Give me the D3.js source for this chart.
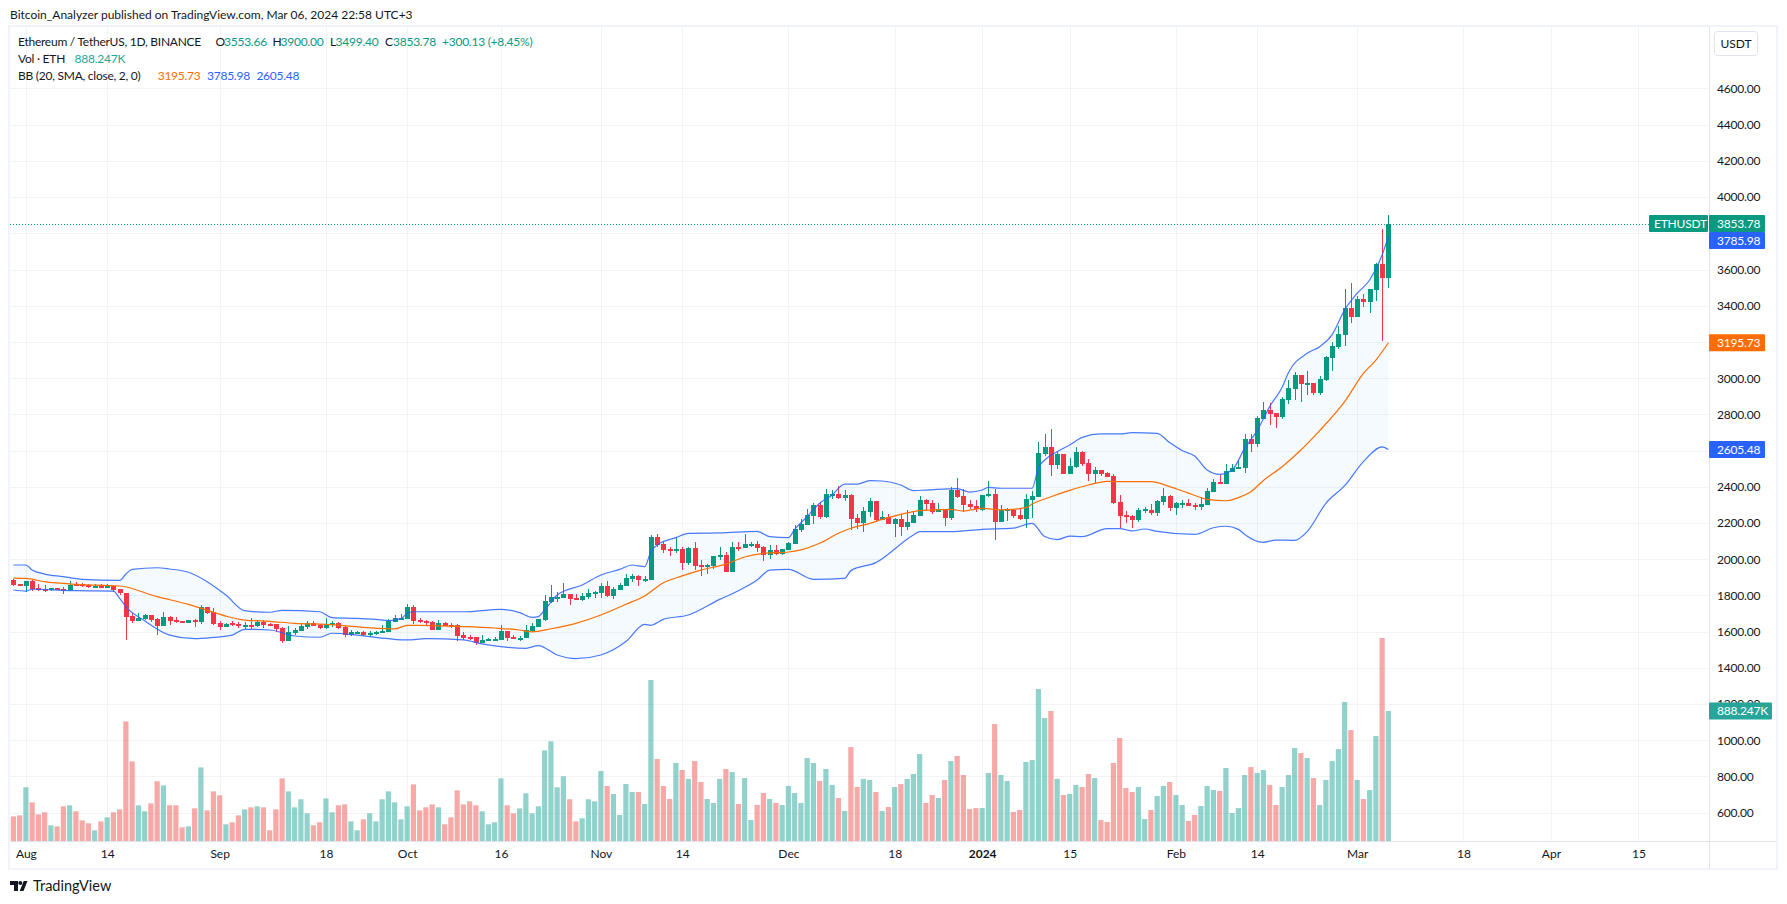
<!DOCTYPE html>
<html>
<head>
<meta charset="utf-8">
<script src="https://cdn.jsdelivr.net/npm/d3@7"></script>
<style>
  body { margin: 0; background: #fff; }
  text { font-family: Lato, "Noto Sans", sans-serif; fill: #131722; }
</style>
</head>
<body>
<div id="chart"></div>
<script>
// daily candles, first bar is two days before Aug 1 (day 0)
let firstDay = -2

let open = [
  1885,1863,1852,1880,1839,1837,1828,1841,1834,1830,
  1863,1861,1856,1848,1856,1848,1852,1835,1813,1686,
  1659,1668,1692,1670,1631,1683,1662,1659,1650,1664,
  1653,1734,1710,1648,1627,1646,1642,1633,1637,1631,
  1653,1642,1640,1620,1548,1591,1605,1626,1648,1637,
  1620,1635,1650,1626,1580,1594,1598,1580,1587,1598,
  1598,1655,1670,1670,1736,1666,1659,1655,1609,1648,
  1638,1637,1580,1570,1570,1537,1554,1554,1554,1603,
  1572,1563,1565,1602,1627,1664,1764,1788,1786,1806,
  1786,1775,1791,1810,1813,1852,1797,1830,1852,1891,
  1907,1887,1885,2123,2084,2056,2045,2056,1979,2062,
  1968,1964,1963,2012,2023,1929,2069,2062,2079,2084,
  2067,2023,2051,2029,2051,2084,2161,2189,2239,2299,
  2233,2355,2360,2338,2355,2228,2200,2261,2321,2217,
  2233,2194,2222,2178,2200,2239,2327,2310,2261,2277,
  2228,2382,2349,2305,2294,2272,2355,2360,2206,2272,
  2272,2244,2222,2327,2344,2581,2620,2520,2581,2471,
  2509,2592,2531,2471,2493,2476,2460,2316,2244,2239,
  2217,2272,2272,2255,2316,2349,2283,2305,2311,2300,
  2288,2300,2371,2427,2415,2482,2498,2504,2664,2636,
  2774,2824,2808,2785,2879,2940,3017,2968,2973,2918,
  2990,3111,3172,3238,3387,3338,3437,3421,3487,3630,
  3553.66
]
let high = [
  1891,1865,1880,1885,1863,1858,1843,1843,1848,1880,
  1872,1870,1865,1863,1863,1863,1852,1835,1813,1701,
  1701,1697,1692,1673,1708,1686,1679,1661,1666,1668,
  1747,1738,1729,1661,1650,1657,1651,1653,1675,1664,
  1664,1646,1640,1624,1633,1618,1648,1659,1657,1642,
  1673,1661,1653,1629,1607,1605,1603,1603,1605,1635,
  1668,1692,1697,1753,1747,1675,1664,1659,1664,1653,
  1650,1640,1598,1581,1570,1580,1567,1569,1638,1603,
  1583,1578,1635,1646,1668,1802,1858,1819,1869,1806,
  1806,1812,1834,1826,1867,1880,1845,1870,1918,1918,
  1911,1907,2134,2139,2095,2067,2123,2067,2067,2095,
  1996,1974,2018,2067,2040,2095,2095,2139,2095,2101,
  2075,2079,2079,2056,2095,2189,2222,2277,2310,2316,
  2388,2382,2404,2382,2360,2250,2288,2338,2321,2266,
  2250,2228,2250,2272,2266,2349,2333,2327,2310,2277,
  2397,2449,2388,2327,2327,2355,2432,2388,2299,2283,
  2277,2277,2360,2377,2647,2692,2719,2592,2583,2559,
  2620,2598,2554,2509,2493,2482,2471,2355,2266,2244,
  2283,2288,2305,2327,2393,2355,2316,2327,2333,2311,
  2344,2393,2443,2465,2526,2526,2542,2692,2692,2791,
  2868,2863,2808,2896,2990,3034,3017,3040,2973,3012,
  3122,3200,3288,3492,3526,3454,3465,3492,3636,3824,
  3900
]
let low = [
  1852,1852,1821,1826,1826,1819,1826,1828,1808,1826,
  1850,1847,1841,1847,1841,1841,1821,1802,1554,1648,
  1659,1666,1651,1583,1631,1638,1646,1649,1649,1626,
  1642,1697,1637,1611,1626,1631,1620,1613,1613,1626,
  1620,1633,1600,1539,1548,1581,1605,1616,1631,1616,
  1616,1627,1613,1572,1576,1592,1574,1569,1581,1591,
  1598,1653,1670,1670,1642,1650,1633,1609,1609,1631,
  1620,1550,1554,1552,1528,1537,1548,1552,1554,1548,
  1557,1548,1565,1602,1627,1659,1760,1764,1786,1749,
  1775,1771,1782,1788,1786,1791,1780,1830,1852,1874,
  1852,1874,1885,2068,2034,2018,2034,1940,1968,1940,
  1907,1918,1946,1996,1929,1929,2045,2062,2067,2040,
  1990,2001,2023,2023,2051,2084,2152,2189,2195,2222,
  2228,2333,2333,2321,2161,2167,2150,2233,2206,2217,
  2194,2123,2128,2161,2200,2239,2266,2250,2261,2183,
  2217,2338,2261,2277,2261,2266,2344,2106,2206,2211,
  2228,2217,2172,2228,2344,2570,2460,2498,2470,2471,
  2504,2515,2432,2421,2460,2454,2305,2172,2200,2172,
  2206,2255,2244,2239,2300,2266,2244,2283,2294,2272,
  2272,2300,2371,2417,2415,2482,2498,2476,2594,2620,
  2774,2741,2725,2774,2857,2879,2868,2907,2907,2907,
  2984,3040,3161,3178,3305,3338,3393,3360,3426,3205,
  3499.4
]
let close = [
  1858,1852,1880,1834,1832,1826,1841,1830,1830,1858,
  1854,1854,1852,1854,1843,1852,1830,1812,1683,1659,
  1675,1692,1662,1631,1681,1659,1653,1650,1664,1661,
  1736,1705,1642,1626,1642,1640,1637,1637,1631,1653,
  1638,1637,1615,1548,1598,1611,1633,1648,1633,1620,
  1642,1648,1620,1580,1598,1600,1581,1594,1600,1603,
  1659,1673,1673,1736,1659,1653,1650,1609,1648,1633,
  1635,1576,1565,1565,1537,1554,1559,1559,1603,1565,
  1565,1567,1607,1631,1668,1769,1791,1793,1808,1780,
  1780,1797,1813,1819,1852,1795,1835,1858,1896,1907,
  1885,1893,2123,2079,2051,2045,2055,1979,2062,1963,
  1963,1970,2018,2023,1929,2067,2062,2086,2084,2062,
  2023,2051,2029,2056,2090,2167,2194,2244,2299,2233,
  2360,2360,2338,2355,2222,2200,2266,2321,2217,2233,
  2194,2222,2178,2206,2244,2327,2305,2261,2277,2228,
  2382,2344,2299,2288,2277,2355,2360,2206,2272,2277,
  2239,2222,2333,2349,2587,2620,2520,2581,2471,2515,
  2592,2526,2471,2493,2471,2454,2311,2239,2233,2217,
  2272,2277,2255,2322,2349,2283,2311,2311,2294,2288,
  2305,2377,2427,2417,2487,2504,2509,2664,2636,2780,
  2824,2802,2785,2885,2946,3017,2968,2973,2918,2995,
  3117,3178,3244,3387,3338,3437,3421,3492,3630,3553,
  3853.78
]
// volume in thousands of ETH
let volume = [
  168,175,367,264,182,196,107,100,237,244,
  203,141,121,73,134,162,196,216,817,544,
  244,203,257,408,380,244,244,93,100,223,
  503,209,339,312,114,128,175,216,230,237,
  230,73,216,428,339,230,285,189,107,128,
  291,196,244,250,134,73,148,189,134,285,
  339,264,148,237,387,209,230,250,230,114,
  162,346,250,271,244,203,114,128,428,244,
  189,223,326,189,237,619,681,367,442,285,
  134,155,285,271,478,376,321,178,389,335,
  335,253,1100,560,376,287,533,485,424,546,
  403,287,260,424,492,471,253,430,143,246,
  328,287,260,246,376,328,260,567,533,410,
  492,383,294,205,642,369,424,417,335,205,
  232,369,389,424,458,594,260,314,294,417,
  546,581,451,219,225,225,465,799,451,410,
  198,212,540,553,1038,840,888,424,314,321,
  383,369,458,430,143,130,533,704,362,335,
  369,150,212,307,376,403,314,246,137,178,
  239,376,348,342,499,191,225,451,505,465,
  485,383,246,369,451,635,601,567,430,246,
  417,546,628,950,758,417,287,348,717,1387,
  888.247
]

// Bollinger bands at the days where they bend
let upperDays = [-2,0,1,3,6,9,15,16,17,21,23,26,29,32,35,39,41,47,49,53,56,58,60,61,62,70,76,79,81,82,83,85,89,92,95,97,99,100,101,104,106,111,117,119,122,123,125,127,129,131,133,135,137,140,142,144,149,151,153,154,156,161,162,163,165,167,169,172,175,177,181,183,185,187,189,191,193,195,197,199,201,202,205,207,209,211,213,215,217,218]
let upperVals = [1968,1968,1940,1918,1904,1889,1883,1918,1944,1953,1946,1928,1876,1802,1716,1707,1718,1710,1677,1673,1668,1661,1672,1700,1710,1710,1723,1705,1679,1683,1720,1802,1858,1913,1944,1968,1959,2042,2079,2119,2143,2145,2154,2125,2119,2165,2235,2309,2355,2415,2415,2434,2432,2410,2379,2382,2390,2371,2382,2397,2392,2392,2505,2548,2594,2631,2673,2692,2692,2699,2695,2644,2600,2570,2493,2469,2493,2612,2710,2843,2950,3030,3137,3174,3240,3377,3468,3542,3680,3785.98]
let midDays = [-2,0,3,8,15,21,26,29,32,35,39,43,48,54,59,61,63,69,75,79,81,84,88,92,96,99,102,105,108,112,115,118,122,124,127,130,132,135,137,140,143,145,148,150,153,156,160,161,164,167,170,173,176,180,183,186,189,192,194,196,198,201,204,207,211,214,216,218]
let midVals = [1896,1894,1876,1861,1852,1793,1751,1719,1686,1664,1657,1646,1640,1624,1615,1635,1635,1629,1620,1609,1599,1616,1646,1692,1751,1797,1870,1908,1940,1973,2012,2032,2040,2052,2088,2143,2171,2198,2220,2248,2268,2272,2275,2266,2281,2272,2285,2305,2345,2380,2410,2430,2428,2428,2401,2365,2331,2323,2340,2373,2435,2511,2603,2710,2870,3026,3100,3195.73]
let lowerDays = [-2,0,1,8,14,15,16,19,23,27,30,33,35,39,43,47,49,53,58,61,64,70,73,76,80,82,85,88,92,96,99,100,102,106,111,114,117,119,122,126,131,132,136,142,143,148,153,158,161,163,165,167,169,173,175,177,179,181,187,190,192,194,195,198,200,203,205,208,211,214,217,218]
let lowerVals = [1830,1824,1834,1826,1824,1784,1738,1660,1581,1561,1568,1581,1613,1609,1576,1569,1591,1581,1561,1554,1561,1555,1532,1517,1508,1523,1471,1451,1471,1545,1640,1635,1668,1692,1778,1826,1885,1940,1944,1889,1894,1937,1981,2134,2152,2152,2165,2172,2198,2125,2108,2128,2125,2169,2169,2156,2167,2154,2137,2174,2182,2165,2137,2093,2106,2104,2152,2309,2406,2539,2620,2605.48]

let priceTicks = [600,800,1000,1200,1400,1600,1800,2000,2200,2400,2600,2800,3000,3200,3400,3600,3800,4000,4200,4400,4600]
let timeTickDays = [0,13,31,48,61,76,92,105,122,139,153,167,184,197,213,230,244,258]
let timeTickLabels = ["Aug","14","Sep","18","Oct","16","Nov","14","Dec","18","2024","15","Feb","14","Mar","18","Apr","15"]

let lastPrice = 3853.78
let lastVolume = 888.247
let bbMid = 3195.73
let bbUpper = 3785.98
let bbLower = 2605.48

let green = "#089981"
let red = "#f23645"
let volGreen = "#26a69a"
let volRed = "#ef5350"
let blue = "#2962ff"
let orange = "#ff6d00"
let gridColor = "#f2f3f5"
let frameColor = "#f0f3fa"

let pane = {left: 10, right: 1710, top: 27, bottom: 841, outerBottom: 868, outerRight: 1776}

let svg = d3.select("#chart")
  .append("svg")
  .attr("width", 1787)
  .attr("height", 904)
  .style("display", "block")

let x = d3.scaleLinear().domain([0, 218]).range([25.9, 1388.4])
let y = d3.scaleLinear().domain([4000, 600]).range([197.1, 812.7])
let yVol = d3.scaleLinear().domain([0, 1387]).range([pane.bottom, 638])

let bars = open.map((o, i) => ({
  day: firstDay + i, open: o, high: high[i], low: low[i], close: close[i], volume: volume[i]
}))

// Frame
svg.append("rect")
  .attr("x", pane.left - 1)
  .attr("y", pane.top - 1)
  .attr("width", pane.outerRight - pane.left + 2)
  .attr("height", pane.outerBottom - pane.top + 2)
  .attr("fill", "#fff")
  .attr("stroke", frameColor)
  .attr("stroke-width", 2)

// Grid
let grid = svg.append("g").attr("shape-rendering", "crispEdges")
grid.selectAll(".h")
  .data(priceTicks)
  .enter()
  .append("line")
  .attr("x1", pane.left)
  .attr("x2", pane.right)
  .attr("y1", d => Math.round(y(d)) + 0.5)
  .attr("y2", d => Math.round(y(d)) + 0.5)
  .attr("stroke", gridColor)
grid.selectAll(".v")
  .data(timeTickDays)
  .enter()
  .append("line")
  .attr("x1", d => Math.round(x(d)) + 0.5)
  .attr("x2", d => Math.round(x(d)) + 0.5)
  .attr("y1", pane.top)
  .attr("y2", pane.bottom)
  .attr("stroke", gridColor)

// Volume
svg.append("g")
  .selectAll("rect")
  .data(bars)
  .enter()
  .append("rect")
  .attr("x", d => x(d.day) - 2.6)
  .attr("width", 5.2)
  .attr("y", d => yVol(d.volume))
  .attr("height", d => pane.bottom - yVol(d.volume))
  .attr("fill", d => d.close >= d.open ? volGreen : volRed)
  .attr("fill-opacity", 0.5)

// Bollinger band fill and lines
let bandLine = d3.line().x(d => x(d[0])).y(d => y(d[1])).curve(d3.curveMonotoneX)
let fillLine = d3.line().x(d => x(d[0])).y(d => y(d[1]))
let upperPts = upperDays.map((d, i) => [d, upperVals[i]])
let midPts = midDays.map((d, i) => [d, midVals[i]])
let lowerPts = lowerDays.map((d, i) => [d, lowerVals[i]])

svg.append("path")
  .attr("d", fillLine(upperPts.concat(lowerPts.slice().reverse())) + "Z")
  .attr("fill", "#2196f3")
  .attr("fill-opacity", 0.05)

let candles = svg.append("g").attr("shape-rendering", "crispEdges")
candles.selectAll(".wick")
  .data(bars)
  .enter()
  .append("rect")
  .attr("x", d => Math.round(x(d.day)))
  .attr("width", 1)
  .attr("y", d => y(d.high))
  .attr("height", d => y(d.low) - y(d.high))
  .attr("fill", d => d.close >= d.open ? green : red)
candles.selectAll(".body")
  .data(bars)
  .enter()
  .append("rect")
  .attr("x", d => Math.round(x(d.day)) - 2)
  .attr("width", 5)
  .attr("y", d => y(Math.max(d.open, d.close)))
  .attr("height", d => Math.max(2, Math.abs(y(d.open) - y(d.close))))
  .attr("fill", d => d.close >= d.open ? green : red)

svg.append("path").attr("d", bandLine(upperPts)).attr("fill", "none").attr("stroke", blue).attr("stroke-opacity", 0.85).attr("stroke-width", 1.2)
svg.append("path").attr("d", bandLine(lowerPts)).attr("fill", "none").attr("stroke", blue).attr("stroke-opacity", 0.85).attr("stroke-width", 1.2)
svg.append("path").attr("d", bandLine(midPts)).attr("fill", "none").attr("stroke", orange).attr("stroke-width", 1.2)

// Last price line
svg.append("line")
  .attr("x1", pane.left)
  .attr("x2", 1649)
  .attr("y1", Math.round(y(lastPrice)) + 0.5)
  .attr("y2", Math.round(y(lastPrice)) + 0.5)
  .attr("stroke", green)
  .attr("stroke-dasharray", "1,2")

// Axes
let priceAxis = svg.append("g")
  .attr("transform", "translate(" + pane.right + ",0)")
  .call(d3.axisRight(y).tickValues(priceTicks).tickFormat(d3.format(".2f")).tickSize(0).tickPadding(7))
priceAxis.select(".domain").remove()
priceAxis.selectAll("text")
  .attr("font-size", 12)
  .style("font-family", "Lato, sans-serif")
  .style("letter-spacing", "-0.2px")
  .attr("fill", "#131722")

let timeAxis = svg.append("g")
  .attr("transform", "translate(0," + pane.bottom + ")")
  .call(d3.axisBottom(x).tickValues(timeTickDays).tickFormat((d, i) => timeTickLabels[i]).tickSize(0).tickPadding(8))
timeAxis.select(".domain").remove()
timeAxis.selectAll("text")
  .attr("font-size", 12)
  .attr("font-weight", d => d == 153 ? "bold" : "normal")
  .style("font-family", "Lato, sans-serif")
  .attr("fill", "#131722")

// Axis borders
let borders = svg.append("g").attr("stroke", "#e0e3eb").attr("shape-rendering", "crispEdges")
borders.append("line").attr("x1", pane.left).attr("x2", pane.outerRight).attr("y1", pane.bottom + 0.5).attr("y2", pane.bottom + 0.5)
borders.append("line").attr("x1", pane.right - 0.5).attr("x2", pane.right - 0.5).attr("y1", pane.top).attr("y2", pane.outerBottom)

// Tags on the price axis
function tag(value, centerY, color, x0, width, anchorX) {
  svg.append("rect")
    .attr("x", x0)
    .attr("y", centerY - 8.5)
    .attr("width", width)
    .attr("height", 17)
    .attr("rx", 1)
    .attr("fill", color)
  svg.append("text")
    .attr("x", anchorX)
    .attr("y", centerY)
    .attr("dy", "0.35em")
    .attr("font-size", 12)
    .style("letter-spacing", "-0.2px")
    .style("fill", "#fff")
    .text(value)
}
tag(d3.format(".2f")(bbMid), y(bbMid), orange, 1709, 56, 1717)
tag(d3.format(".2f")(bbLower), y(bbLower), blue, 1709, 56, 1717)
tag(d3.format(".2f")(bbUpper), y(bbUpper) + 4.6, blue, 1709, 56, 1717)
tag(d3.format(".2f")(lastPrice), y(lastPrice), green, 1709, 56, 1717)
tag("ETHUSDT", y(lastPrice), green, 1649, 59, 1654)
tag(d3.format(".3f")(lastVolume) + "K", yVol(lastVolume), volGreen, 1709, 63, 1717)

// Currency button
svg.append("rect")
  .attr("x", 1714.5)
  .attr("y", 31.5)
  .attr("width", 43)
  .attr("height", 24)
  .attr("rx", 3)
  .attr("fill", "#fff")
  .attr("stroke", "#e0e3eb")
svg.append("text").attr("x", 1736).attr("y", 44).attr("dy", "0.35em").attr("text-anchor", "middle").attr("font-size", 12).text("USDT")

// Header and legend
function label(str, lx, ly, color) {
  return svg.append("text")
    .attr("x", lx)
    .attr("y", ly)
    .attr("dy", "0.35em")
    .attr("font-size", 12)
    .style("letter-spacing", "-0.25px")
    .style("fill", color || "#131722")
    .text(str)
}
label("Bitcoin_Analyzer published on TradingView.com, Mar 06, 2024 22:58 UTC+3", 10, 15)
  .style("letter-spacing", "0px")

label("Ethereum / TetherUS, 1D, BINANCE", 18, 42)
label("O", 215.5, 42)
label("3553.66", 224, 42, green)
label("H", 272.5, 42)
label("3900.00", 280.5, 42, green)
label("L", 330, 42)
label("3499.40", 335.6, 42, green)
label("C", 385, 42)
label("3853.78", 393, 42, green)
label("+300.13 (+8.45%)", 442, 42, green)

label("Vol · ETH", 18, 59)
label("888.247K", 74.6, 59, volGreen)

label("BB (20, SMA, close, 2, 0)", 18, 76)
label("3195.73", 157.7, 76, orange)
label("3785.98", 207, 76, blue)
label("2605.48", 256.4, 76, blue)

// TradingView mark
svg.append("path")
  .attr("d", "M10 881h8v10h-4v-6h-4z M23.5 891l4-10h-3.8l-4 10z")
  .attr("fill", "#131722")
svg.append("circle").attr("cx", 20.3).attr("cy", 883).attr("r", 2).attr("fill", "#131722")
svg.append("text")
  .attr("x", 33)
  .attr("y", 886)
  .attr("dy", "0.35em")
  .attr("font-size", 14.5)
  .text("TradingView")
</script>
</body>
</html>
